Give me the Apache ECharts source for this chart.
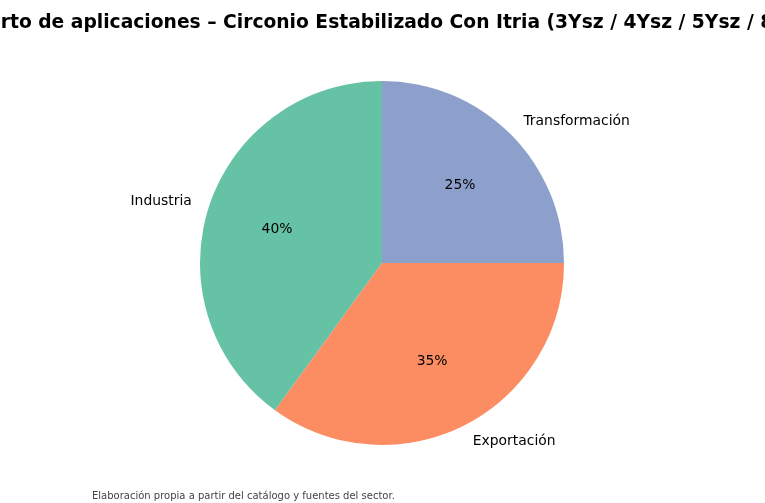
<!DOCTYPE html>
<html>
<head>
<meta charset="utf-8">
<script src="https://cdn.jsdelivr.net/npm/echarts@6/dist/echarts.min.js"></script>
<style>
  html, body { margin: 0; padding: 0; background: #fff; }
  #chart { width: 765px; height: 503px; }
</style>
</head>
<body>
<div id="chart"></div>
<script>
// datos del reparto
var categorias = ['Industria', 'Exportación', 'Transformación'];
var valores = [40, 35, 25];
var colores = ['#66c2a5', '#fc8d62', '#8da0cb'];

var titulo = 'Reparto de aplicaciones – Circonio Estabilizado Con Itria (3Ysz / 4Ysz / 5Ysz / 8Ysz)';
var nota = 'Elaboración propia a partir del catálogo y fuentes del sector.';

var datos = [];
for (var i = 0; i < categorias.length; i++) {
    datos.push({ name: categorias[i], value: valores[i], itemStyle: { color: colores[i] } });
}
var datosPct = [];
for (var j = 0; j < categorias.length; j++) {
    datosPct.push({ name: categorias[j], value: valores[j] });
}

var chart = echarts.init(document.getElementById('chart'));
var R = 182;

var option = {
    animation: false,
    backgroundColor: '#ffffff',
    title: {
        text: titulo,
        left: 'center',
        top: 9,
        textStyle: { fontFamily: 'DejaVu Sans', fontSize: 18.7, fontWeight: 'bold', color: '#000' }
    },
    graphic: [{
        type: 'text',
        left: 92,
        top: 491,
        style: { text: nota, fontFamily: 'DejaVu Sans', fontSize: 10, fill: '#444' }
    }],
    series: [
        {
            type: 'pie',
            center: [382, 263],
            radius: [0, R],
            startAngle: 90,
            clockwise: false,
            avoidLabelOverlap: false,
            silent: true,
            data: datos,
            label: {
                show: true,
                position: 'outside',
                formatter: '{b}',
                distanceToLabelLine: 0,
                fontFamily: 'DejaVu Sans',
                fontSize: 13.9,
                color: '#000'
            },
            labelLine: { show: false, length: 18, length2: 0 }
        },
        {
            // capa transparente para poner los porcentajes a 0.6 R
            type: 'pie',
            center: [382, 263],
            radius: [0.18 * R, R],
            startAngle: 90,
            clockwise: false,
            avoidLabelOverlap: false,
            silent: true,
            data: datosPct,
            itemStyle: { color: 'rgba(0,0,0,0)' },
            label: {
                show: true,
                position: 'inside',
                formatter: function (p) { return Math.round(p.percent) + '%'; },
                fontFamily: 'DejaVu Sans',
                fontSize: 13.9,
                color: '#000'
            },
            labelLine: { show: false }
        }
    ]
};
chart.setOption(option);
</script>
</body>
</html>
